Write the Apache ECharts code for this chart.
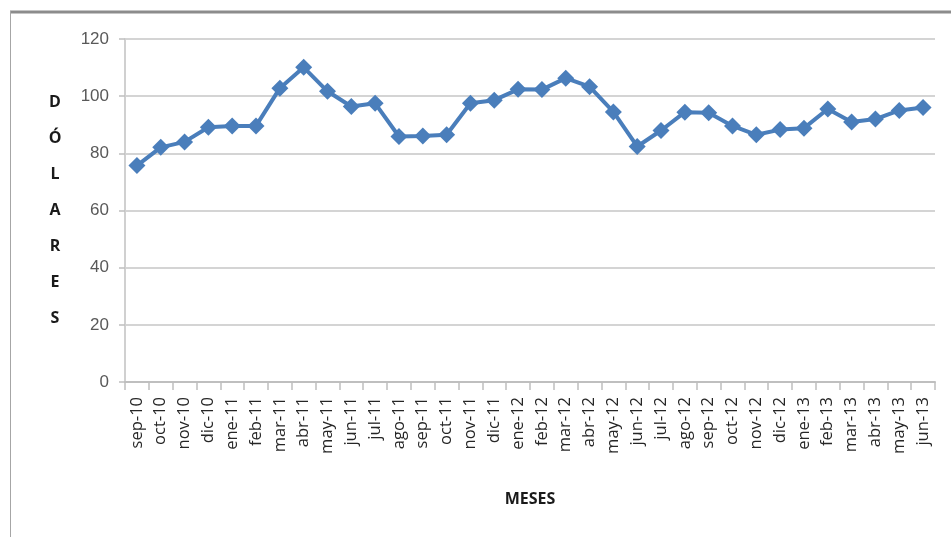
<!DOCTYPE html>
<html><head><meta charset="utf-8">
<script src="https://cdn.jsdelivr.net/npm/echarts@6/dist/echarts.min.js"></script>
<style>html,body{margin:0;padding:0;background:#fff}#c{width:951px;height:537px}</style>
</head><body><div id="c"></div>
<script>
var categories = ['sep-10','oct-10','nov-10','dic-10','ene-11','feb-11','mar-11','abr-11','may-11','jun-11','jul-11','ago-11','sep-11','oct-11','nov-11','dic-11','ene-12','feb-12','mar-12','abr-12','may-12','jun-12','jul-12','ago-12','sep-12','oct-12','nov-12','dic-12','ene-13','feb-13','mar-13','abr-13','may-13','jun-13'];
var precios = [75.7,82.1,84,89.1,89.6,89.6,102.8,110.1,101.7,96.4,97.5,85.9,86.1,86.5,97.5,98.6,102.4,102.3,106.3,103.3,94.5,82.4,88,94.4,94.2,89.6,86.5,88.3,88.8,95.5,91,92,95,96];
var yTicks = [0,20,40,60,80,100,120];
var chart = echarts.init(document.getElementById('c'));
chart.setOption({
  animation: false,
  graphic: [
    {type:'line', shape:{x1:10,y1:12,x2:951,y2:12}, style:{stroke:'#8c8c8c', lineWidth:3}},
    {type:'line', shape:{x1:10.5,y1:11,x2:10.5,y2:537}, style:{stroke:'#a6a6a6', lineWidth:1}}
  ],
  grid: {left:125, right:16, top:39, bottom:155, containLabel:false},
  xAxis: {
    type:'category', data:categories, boundaryGap:true,
    name:'MESES', nameLocation:'middle', nameGap:109,
    nameTextStyle:{fontFamily:'Open Sans', fontWeight:'bold', fontSize:16, color:'#1a1a1a'},
    axisLine:{lineStyle:{color:'#bfbfbf', width:2}},
    axisTick:{show:true, alignWithLabel:false, length:8, lineStyle:{color:'#bfbfbf', width:1.5}},
    axisLabel:{rotate:90, margin:15, interval:0, fontFamily:'Open Sans', fontSize:16.5, color:'#262626'},
    splitLine:{show:false}
  },
  yAxis: {
    type:'value', min:yTicks[0], max:yTicks[yTicks.length-1], interval:20,
    name:'D\nÓ\nL\nA\nR\nE\nS', nameLocation:'middle', nameGap:70, nameRotate:0,
    nameTextStyle:{fontFamily:'Open Sans', fontWeight:'bold', fontSize:16, color:'#1a1a1a', lineHeight:36, align:'center', verticalAlign:'middle'},
    axisLine:{show:true, lineStyle:{color:'#d0d0d0', width:2}},
    axisTick:{show:true, length:6, lineStyle:{color:'#bfbfbf', width:1.5}},
    axisLabel:{margin:16, fontFamily:'Liberation Sans', fontSize:17, color:'#595959'},
    splitLine:{lineStyle:{color:'#d4d4d4', width:2}}
  },
  series: [{
    type:'line', data:precios,
    symbol:'diamond', symbolSize:17,
    lineStyle:{color:'#4a7ebb', width:4},
    itemStyle:{color:'#4a7ebb'}
  }]
});
</script></body></html>
